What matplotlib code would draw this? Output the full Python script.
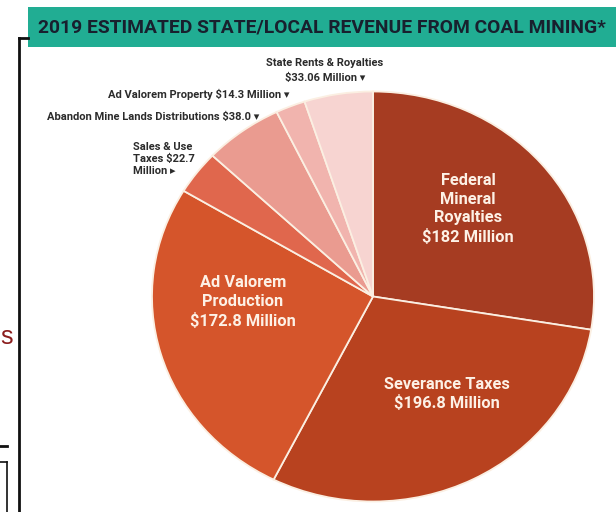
import matplotlib.pyplot as plt
from matplotlib.patches import Rectangle
from matplotlib.lines import Line2D

# revenue sources, in millions of dollars, clockwise from 12 o'clock
sources = ["Federal Mineral Royalties", "Severance Taxes", "Ad Valorem Production",
           "Sales & Use Taxes", "Abandon Mine Lands Distributions",
           "Ad Valorem Property", "State Rents & Royalties"]
revenue = [182, 196.8, 172.8, 22.7, 38.0, 14.3, 33.06]
slice_colors = ["#a63c22", "#b8421f", "#d5552b", "#e0674d", "#ea9b90", "#f1b4ae", "#f7d4d1"]

inner_labels = ["Federal\nMineral\nRoyalties\n$182 Million",
                "Severance Taxes\n$196.8 Million",
                "Ad Valorem\nProduction\n$172.8 Million"]
title = "2019 ESTIMATED STATE/LOCAL REVENUE FROM COAL MINING*"

narrow = ["Roboto", "DejaVu Sans"]

W, H = 616, 512
fig = plt.figure(figsize=(W / 100, H / 100), dpi=100)
ax = fig.add_axes([0, 0, 1, 1])

wedges, _ = ax.pie(revenue, colors=slice_colors, startangle=90, counterclock=False,
                   wedgeprops=dict(edgecolor="#fbefe2", linewidth=1.3))

# stretch the pie into a slight ellipse: 221 px wide radius, 205 px tall radius
cx, cy, rx, ry = 373, 296.5, 221, 205
ax.set_aspect("auto")
ax.set_xlim(-cx / rx, (W - cx) / rx)
ax.set_ylim(-(H - cy) / ry, cy / ry)
ax.axis("off")

def px(x, y):
    # pixel position (from top-left) -> data coords
    return (x - cx) / rx, (cy - y) / ry

inner_pos = [(468, 209), (447, 394), (243, 302)]
for lab, (x, y) in zip(inner_labels, inner_pos):
    ax.text(*px(x, y), lab, ha="center", va="center", color="#fdf1e6",
            fontsize=11.8, fontweight="bold", family=narrow, linespacing=1.3)

# small slices get labels outside the pie
lab_kw = dict(fontsize=8, fontweight="bold", color="#2b2b2b", family=narrow)
ax.text(*px(325, 63), "State Rents & Royalties", ha="center", va="center", **lab_kw)
ax.text(*px(325, 78), "$33.06 Million \u25be", ha="center", va="center", **lab_kw)
ax.text(*px(289, 94), "Ad Valorem Property $14.3 Million \u25be", ha="right", va="center", **lab_kw)
ax.text(*px(259, 117), "Abandon Mine Lands Distributions $38.0 \u25be", ha="right", va="center", **lab_kw)
ax.text(*px(133, 159), "Sales & Use\nTaxes $22.7\nMillion \u25b8", ha="left", va="center",
        linespacing=1.25, **lab_kw)

# title banner
fig.patches.append(Rectangle((28 / W, 1 - 47 / H), (W - 28) / W, 40 / H,
                             transform=fig.transFigure, facecolor="#21ad93", edgecolor="none"))
fig.text(322 / W, 1 - 27 / H, title, ha="center", va="center", color="#18202e",
         fontsize=13.9, fontweight="bold", family=narrow)

# frame lines down the left side
def seg(x0, y0, x1, y1, lw=2.0, c="#111111"):
    fig.add_artist(Line2D([x0 / W, x1 / W], [1 - y0 / H, 1 - y1 / H], color=c, lw=lw,
                          transform=fig.transFigure))

seg(19.5, 38, 19.5, 512)
seg(19.5, 38, 28, 38)
seg(0, 446, 7, 446)
seg(0, 462, 7, 462, lw=1.2)
seg(7, 462, 7, 512, lw=1.2)
fig.text(0.5 / W, 1 - 337 / H, "s", ha="left", va="center", color="#8b1d1d",
         fontsize=18, family="Liberation Sans")

fig.savefig("out.png", dpi=100, facecolor="white")
